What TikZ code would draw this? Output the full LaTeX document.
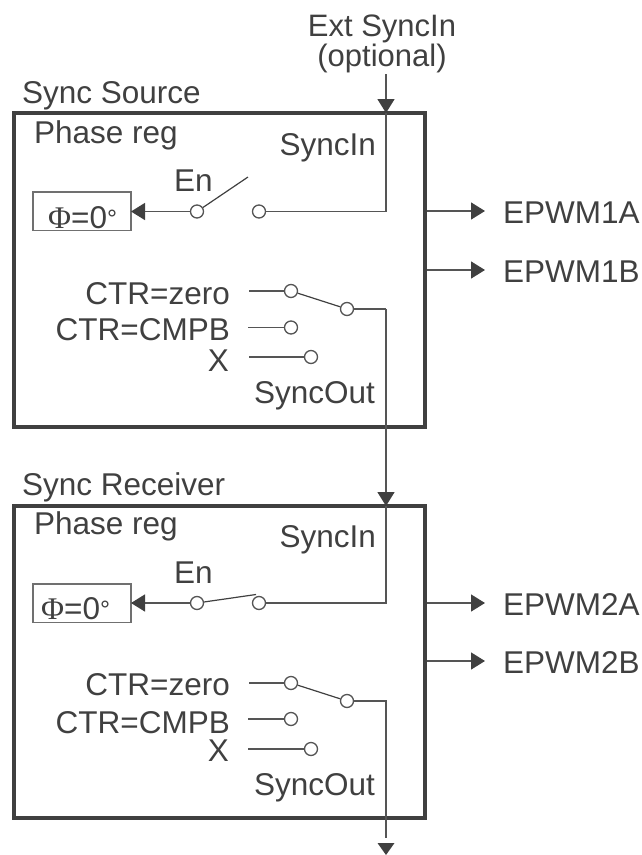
\documentclass[tikz,border=0pt]{standalone}
\usepackage{fontspec}
\setmainfont{Liberation Sans}
\newfontfamily\phifont{Liberation Serif}
\usetikzlibrary{arrows.meta}
\definecolor{ink}{HTML}{404040}
\definecolor{wire}{HTML}{555555}
\definecolor{boxline}{HTML}{707070}
\tikzset{
  x=1pt,y=-1pt,
  txt/.style={inner sep=0pt,text=ink,font=\fontsize{31.5}{32}\selectfont},
  lab/.style={txt,anchor=base west},
  labr/.style={txt,anchor=base east},
  block/.style={draw=ink,line width=4pt,inner sep=0pt,outer sep=0pt,minimum width=411pt,anchor=north west},
  phibox/.style={draw=boxline,line width=1.5pt,inner sep=0pt,outer sep=0pt,minimum width=98pt,minimum height=38.5pt,anchor=north west},
  term/.style={circle,draw=wire,fill=white,line width=1.3pt,inner sep=0pt,minimum size=13pt},
  wirel/.style={draw=wire,line width=1.5pt},
  swl/.style={draw=ink,line width=1.2pt},
  arr/.style={wirel,-{Triangle[length=14pt,width=17pt,color=ink]}}
}
\newcommand{\phival}{{\phifont\fontsize{31.5}{32}\selectfont Φ}=0{\fontsize{25}{26}\selectfont\raisebox{0.9pt}{°}}}
\begin{document}
\begin{tikzpicture}
\useasboundingbox (0,0) rectangle (641,855);
% titles
\node[txt,align=center,font=\fontsize{31}{28}\selectfont] (ext) at (382,43.5) {Ext SyncIn\\(optional)};
\node[lab] (srcT) at (22,103) {Sync Source};
\node[lab] (rcvT) at (22,495) {Sync Receiver};
% blocks
\node[block,minimum height=314pt] (b1) at (14,113) {};
\node[block,minimum height=312pt] (b2) at (14,506) {};
% block 1
\node[lab] (pr1) at (34,143) {Phase reg};
\node[labr] (si1) at (376,155) {SyncIn};
\node[lab] (en1) at (174,191) {En};
\node[phibox] (phi1) at (33,192) {};
\node[lab] (pv1) at (48,228) {\phival};
\node[term] (a1) at (197,211.5) {};
\node[term] (c1) at (259,211.5) {};
\coordinate (t1) at (248,177);
\coordinate (in1) at (386,113);
\coordinate (top1) at (386,74);
\coordinate (cor1) at (386,211.5);
\draw[arr] (top1) -- (in1);
\draw[wirel] (in1) -- (cor1) -- (c1);
\draw[arr] (a1) -- (a1 -| phi1.east);
\draw[swl] (a1) -- (t1);
\coordinate (o1as) at (427,211); \coordinate (o1ae) at (485,211);
\coordinate (o1bs) at (427,270); \coordinate (o1be) at (485,270);
\draw[arr] (o1as) -- (o1ae);
\draw[arr] (o1bs) -- (o1be);
\node[lab] (e1a) at (503,223.5) {EPWM1A};
\node[lab] (e1b) at (503,282.5) {EPWM1B};
\node[labr] (z1) at (230,304.5) {CTR=zero};
\node[labr] (m1) at (230,340.5) {CTR=CMPB};
\node[labr] (x1) at (229,371.5) {X};
\node[labr] (so1) at (375,403) {SyncOut};
\node[term] (sz1) at (291,291) {};
\node[term] (sm1) at (291,327.5) {};
\node[term] (sx1) at (311,357) {};
\node[term] (sc1) at (347,309) {};
\coordinate (lz1) at (249,291); \coordinate (lm1) at (248,327.5); \coordinate (lx1) at (249,357);
\draw[wirel] (lz1) -- (sz1);
\draw[wirel] (lm1) -- (sm1);
\draw[wirel] (lx1) -- (sx1);
\draw[swl] (sz1) -- (sc1);
\coordinate (cz1) at (386,309);
\coordinate (in2) at (386,506);
\draw[wirel] (sc1) -- (cz1);
\draw[arr] (cz1) -- (in2);
% block 2
\node[lab] (pr2) at (34,534) {Phase reg};
\node[labr] (si2) at (376,547) {SyncIn};
\node[lab] (en2) at (174,583) {En};
\node[phibox] (phi2) at (33,584) {};
\node[lab] (pv2) at (41,619) {\phival};
\node[term] (a2) at (197,603) {};
\node[term] (c2) at (259,603) {};
\coordinate (t2) at (256,594.5);
\coordinate (cor2) at (386,603);
\draw[wirel] (in2) -- (cor2) -- (c2);
\draw[arr] (a2) -- (a2 -| phi2.east);
\draw[swl] (a2) -- (t2);
\coordinate (o2as) at (427,603); \coordinate (o2ae) at (485,603);
\coordinate (o2bs) at (427,661); \coordinate (o2be) at (485,661);
\draw[arr] (o2as) -- (o2ae);
\draw[arr] (o2bs) -- (o2be);
\node[lab] (e2a) at (503,615.5) {EPWM2A};
\node[lab] (e2b) at (503,673.5) {EPWM2B};
\node[labr] (z2) at (230,695) {CTR=zero};
\node[labr] (m2) at (230,733) {CTR=CMPB};
\node[labr] (x2) at (229,761) {X};
\node[labr] (so2) at (375,795) {SyncOut};
\node[term] (sz2) at (291,683) {};
\node[term] (sm2) at (291,719) {};
\node[term] (sx2) at (311,749) {};
\node[term] (sc2) at (347,701) {};
\coordinate (lz2) at (249,683); \coordinate (lm2) at (248,719); \coordinate (lx2) at (248,749);
\draw[wirel] (lz2) -- (sz2);
\draw[wirel] (lm2) -- (sm2);
\draw[wirel] (lx2) -- (sx2);
\draw[swl] (sz2) -- (sc2);
\coordinate (cz2) at (386,701);
\coordinate (end2) at (386,838);
\draw[wirel] (sc2) -- (cz2) -- (end2);
\fill[ink] (377.5,843) -- (394.5,843) -- (386,855) -- cycle;
\end{tikzpicture}
\end{document}
